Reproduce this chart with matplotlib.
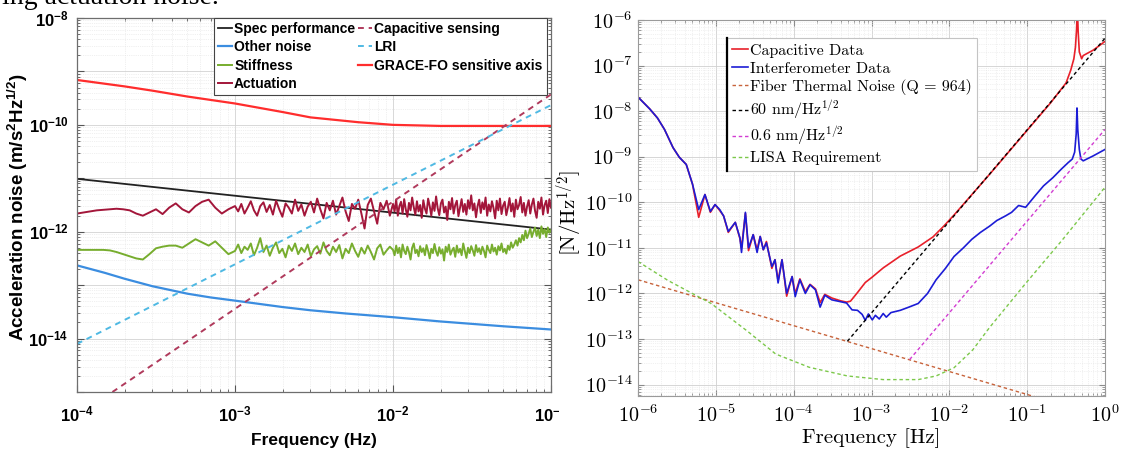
import numpy as np
import matplotlib.pyplot as plt
from matplotlib.patches import Rectangle
from matplotlib.ticker import LogLocator, NullFormatter, FuncFormatter

plt.rcParams['mathtext.fontset'] = 'cm'
# "custom" math font is used only by the left panel (bold sans)
plt.rcParams['mathtext.rm'] = 'Liberation Sans:bold'
plt.rcParams['mathtext.it'] = 'Liberation Sans:bold'
plt.rcParams['mathtext.bf'] = 'Liberation Sans:bold'

W, H = 1122, 453

# ---------------- left panel data (log10 values) ----------
grace_f = [1e-4, 2e-4, 3e-4, 5e-4, 1e-3, 2e-3, 3e-3, 6e-3, 1e-2, 2e-2, 5e-2, 1e-1]
grace_lv = [-9.16, -9.28, -9.36, -9.47, -9.60, -9.76, -9.86, -9.95, -10.0, -10.02, -10.02, -10.02]

spec_f = [1e-4, 1e-1]
spec_lv = [-11.01, -11.96]

other_f = [1e-4, 1.5e-4, 2e-4, 3e-4, 5e-4, 7e-4, 1e-3, 2e-3, 3e-3, 5e-3, 1e-2, 2e-2, 5e-2, 1e-1]
other_lv = [-12.63, -12.77, -12.88, -13.02, -13.16, -13.23, -13.29, -13.41, -13.47, -13.53,
            -13.60, -13.68, -13.77, -13.83]

capsens_f = [1e-4, 1e-1]
capsens_lv = [-15.45, -9.43]

lri_f = [1e-4, 1e-1]
lri_lv = [-14.10, -9.63]

# noisy spectra: 24 pts in 1e-4..1e-3, 50 in 1e-3..1e-2, 100 in 1e-2..1e-1
act_lv = [
    -11.66, -11.64, -11.62, -11.60, -11.59, -11.58, -11.57, -11.58, -11.60, -11.66,
    -11.70, -11.64, -11.58, -11.67, -11.55, -11.47, -11.58, -11.64, -11.52, -11.44,
    -11.40, -11.55, -11.66, -11.58,
    -11.52, -11.62, -11.48, -11.66, -11.55, -11.43, -11.60, -11.70, -11.52, -11.45,
    -11.63, -11.50, -11.68, -11.42, -11.58, -11.72, -11.47, -11.55, -11.66, -11.40,
    -11.61, -11.49, -11.70, -11.53, -11.44, -11.64, -11.38, -11.58, -11.75, -11.46,
    -11.60, -11.42, -11.68, -11.52, -11.36, -11.62, -11.80, -11.48, -11.57, -11.40,
    -11.66, -11.94, -11.50, -11.38, -11.62, -11.85, -11.46, -11.58, -11.42, -11.70,
    -11.48, -11.62, -11.40, -11.70, -11.52, -11.44, -11.66, -11.39, -11.58, -11.72,
    -11.46, -11.60, -11.36, -11.54, -11.68, -11.43, -11.62, -11.50, -11.74, -11.41,
    -11.57, -11.66, -11.38, -11.52, -11.70, -11.45, -11.61, -11.34, -11.56, -11.69,
    -11.47, -11.40, -11.64, -11.53, -11.78, -11.44, -11.58, -11.37, -11.66, -11.50,
    -11.42, -11.71, -11.55, -11.39, -11.63, -11.48, -11.68, -11.41, -11.57, -11.32,
    -11.60, -11.47, -11.73, -11.52, -11.40, -11.65, -11.45, -11.58, -11.36, -11.70,
    -11.49, -11.62, -11.43, -11.56, -11.75, -11.42, -11.60, -11.38, -11.67, -11.51,
    -11.44, -11.69, -11.55, -11.37, -11.62, -11.47, -11.72, -11.40, -11.58, -11.50,
    -11.35, -11.64, -11.46, -11.70, -11.53, -11.41, -11.66, -11.49, -11.38, -11.61,
    -11.74, -11.44, -11.57, -11.36, -11.68, -11.50, -11.42, -11.65, -11.39, -11.55]

stf_lv = [
    -12.34, -12.34, -12.34, -12.34, -12.34, -12.35, -12.38, -12.42, -12.46, -12.50,
    -12.52, -12.42, -12.31, -12.28, -12.26, -12.26, -12.30, -12.22, -12.14, -12.20,
    -12.26, -12.18, -12.30, -12.42,
    -12.36, -12.24, -12.40, -12.28, -12.34, -12.22, -12.44, -12.30, -12.12, -12.38,
    -12.26, -12.45, -12.30, -12.20, -12.40, -12.32, -12.48, -12.26, -12.36, -12.22,
    -12.42, -12.30, -12.38, -12.24, -12.46, -12.33, -12.27, -12.41, -12.20, -12.36,
    -12.44, -12.28, -12.38, -12.25, -12.50, -12.32, -12.40, -12.22, -12.36, -12.47,
    -12.30, -12.41, -12.26, -12.38, -12.52, -12.31, -12.24, -12.43, -12.35, -12.28,
    -12.34, -12.44, -12.26, -12.40, -12.30, -12.48, -12.24, -12.36, -12.42, -12.28,
    -12.38, -12.52, -12.30, -12.22, -12.40, -12.34, -12.46, -12.27, -12.38, -12.31,
    -12.44, -12.25, -12.36, -12.50, -12.32, -12.40, -12.23, -12.37, -12.45, -12.29,
    -12.41, -12.33, -12.54, -12.28, -12.38, -12.24, -12.43, -12.35, -12.30, -12.47,
    -12.26, -12.39, -12.32, -12.44, -12.22, -12.36, -12.49, -12.30, -12.40, -12.27,
    -12.35, -12.45, -12.25, -12.38, -12.31, -12.42, -12.28, -12.36, -12.48, -12.26,
    -12.34, -12.40, -12.24, -12.37, -12.30, -12.43, -12.27, -12.35, -12.22, -12.38,
    -12.32, -12.41, -12.26, -12.34, -12.20, -12.30, -12.24, -12.16, -12.26, -12.12,
    -12.20, -12.06, -12.16, -11.98, -12.12, -12.04, -11.94, -12.10, -12.00, -11.92,
    -12.08, -11.96, -12.12, -11.90, -12.04, -11.95, -12.10, -11.92, -12.02, -11.97]

noise_f = np.concatenate([np.logspace(-4, -3, 24, endpoint=False),
                          np.logspace(-3, -2, 50, endpoint=False),
                          np.logspace(-2, -1, 100)])

# ---------------- right panel data (log10 f, log10 value) ----------------------
cap_lf = [-6.00, -5.85, -5.75, -5.66, -5.55, -5.47, -5.38, -5.30, -5.22, -5.14,
          -5.07, -5.01, -4.95, -4.90, -4.84, -4.75, -4.69, -4.67, -4.62, -4.58,
          -4.52, -4.47, -4.43, -4.39, -4.35, -4.28, -4.24, -4.20, -4.15, -4.09,
          -4.02, -3.98, -3.92, -3.85, -3.79, -3.72, -3.66, -3.60, -3.51, -3.40,
          -3.32, -3.27, -3.18, -3.08, -2.99, -2.85, -2.63, -2.40, -2.21, -2.07,
          -1.94, -1.48, -1.02, -0.70, -0.50, -0.44, -0.40, -0.38, -0.365, -0.355,
          -0.345, -0.33, -0.30, -0.28, -0.15, 0.0]
cap_lv = [-7.69, -7.95, -8.15, -8.40, -8.80, -9.01, -9.17, -9.60, -10.33, -9.83,
          -10.22, -10.05, -10.18, -10.30, -10.66, -10.44, -10.80, -11.00, -10.24, -11.06,
          -10.71, -11.04, -10.75, -11.04, -10.86, -11.45, -11.26, -11.72, -11.26, -12.06,
          -11.63, -12.00, -11.68, -11.96, -11.80, -11.90, -12.20, -12.02, -12.10, -12.16,
          -12.19, -12.17, -11.98, -11.76, -11.64, -11.44, -11.18, -10.98, -10.76, -10.52,
          -10.28, -9.38, -8.46, -7.82, -7.38, -7.10, -6.85, -6.60, -6.20, -5.70,
          -6.25, -6.70, -6.85, -6.78, -6.66, -6.47]

ifo_lf = [-6.00, -5.85, -5.75, -5.66, -5.55, -5.47, -5.38, -5.30, -5.22, -5.14,
          -5.07, -5.01, -4.95, -4.90, -4.84, -4.75, -4.69, -4.67, -4.62, -4.58,
          -4.52, -4.47, -4.43, -4.39, -4.35, -4.28, -4.24, -4.20, -4.15, -4.09,
          -4.02, -3.98, -3.92, -3.85, -3.79, -3.72, -3.66, -3.60, -3.51, -3.40,
          -3.32, -3.25, -3.18, -3.12, -3.08, -3.04, -2.99, -2.95, -2.90, -2.85,
          -2.81, -2.75, -2.63, -2.52, -2.40, -2.28, -2.17, -2.05, -1.94, -1.82,
          -1.71, -1.60, -1.48, -1.39, -1.28, -1.20, -1.11, -1.02, -0.90, -0.79,
          -0.67, -0.56, -0.48, -0.42, -0.39, -0.37, -0.36, -0.35, -0.33, -0.31,
          -0.28, -0.15, 0.0]
ifo_lv = [-7.69, -7.95, -8.15, -8.40, -8.80, -9.01, -9.17, -9.60, -10.16, -9.83,
          -10.20, -10.05, -10.16, -10.30, -10.64, -10.44, -10.78, -11.10, -10.22, -11.00,
          -10.71, -11.10, -10.75, -11.04, -10.89, -11.41, -11.26, -11.77, -11.26, -12.00,
          -11.63, -12.07, -11.70, -12.00, -11.81, -11.92, -12.30, -12.04, -12.14, -12.18,
          -12.21, -12.36, -12.37, -12.46, -12.59, -12.45, -12.58, -12.48, -12.56, -12.44,
          -12.52, -12.42, -12.37, -12.30, -12.22, -12.00, -11.70, -11.45, -11.19, -11.00,
          -10.81, -10.66, -10.52, -10.40, -10.30, -10.22, -10.07, -10.11, -9.86, -9.64,
          -9.46, -9.27, -9.14, -9.05, -8.90, -8.50, -7.93, -8.40, -8.84, -9.05,
          -9.09, -8.98, -8.84]

fiber_lf = [-6.0, 0.0]
fiber_lv = [-11.70, -14.72]

nm60_lf = [-3.31, 0.0]
nm60_lv = [-13.05, -6.40]

nm06_lf = [-2.51, 0.0]
nm06_lv = [-13.45, -8.40]

lisa_lf = [-6.0, -5.61, -5.06, -4.60, -4.23, -3.80, -3.31, -2.85, -2.40, -2.17,
           -1.94, -1.70, -1.48, -1.02, -0.56, 0.0]
lisa_lv = [-11.30, -11.72, -12.22, -12.82, -13.33, -13.62, -13.81, -13.89, -13.89, -13.81,
           -13.63, -13.24, -12.74, -11.78, -10.85, -9.67]


def p10(a):
    return 10.0 ** np.asarray(a)


fig = plt.figure(figsize=(W / 100, H / 100), dpi=100)

# ================= left panel =================
ax1 = fig.add_axes([77 / W, 1 - 392 / H, 474 / W, 374 / H])
ax1.set_xscale('log')
ax1.set_yscale('log')

l_grace, = ax1.plot(grace_f, p10(grace_lv), color='#ff2d2d', lw=1.6)
l_spec, = ax1.plot(spec_f, p10(spec_lv), color='#222222', lw=1.3)
l_other, = ax1.plot(other_f, p10(other_lv), color='#3b8de0', lw=1.6)
l_stf, = ax1.plot(noise_f, p10(stf_lv), color='#77ad2e', lw=1.4)
l_act, = ax1.plot(noise_f, p10(act_lv), color='#a3163a', lw=1.4)
l_cap, = ax1.plot(capsens_f, p10(capsens_lv), color='#b03a5c', lw=1.4, dashes=(3, 2.5))
l_lri, = ax1.plot(lri_f, p10(lri_lv), color='#4fb9e3', lw=1.4, dashes=(3, 2.5))

ax1.set_xlim(1e-4, 1e-1)
ax1.set_ylim(1e-15, 1e-8)
ax1.set_xticks([1e-4, 1e-3, 1e-2, 1e-1])
ax1.set_yticks([10.0 ** k for k in range(-15, -7)])

ax1.xaxis.set_major_formatter(FuncFormatter(
    lambda v, p: r'$\mathbf{10^{%d}}$' % round(np.log10(v))))
ax1.yaxis.set_major_formatter(FuncFormatter(
    lambda v, p: r'$\mathbf{10^{%d}}$' % round(np.log10(v)) if round(np.log10(v)) % 2 == 0 else ''))
for a in (ax1.xaxis, ax1.yaxis):
    a.set_minor_locator(LogLocator(subs=np.arange(2, 10), numticks=20))
    a.set_minor_formatter(NullFormatter())
ax1.grid(True, which='major', color='#d2d2d2', lw=0.6)
ax1.grid(True, which='minor', color='#e2e2e2', lw=0.5, ls=':')
ax1.set_axisbelow(True)
ax1.tick_params(which='both', direction='in', top=True, right=True, colors='#555555',
                labelcolor='black', labelsize=12)
ax1.tick_params(which='major', length=5)
ax1.tick_params(which='minor', length=2.5)
ax1.tick_params(axis='x', pad=10)
ax1.tick_params(axis='y', pad=6)
for s in ax1.spines.values():
    s.set_color('#6e6e6e')
    s.set_linewidth(0.9)

ax1.set_xlabel('Frequency (Hz)', fontsize=12.5, fontweight='bold', family='Liberation Sans')
ax1.xaxis.set_label_coords(0.5, -0.11)
ax1.set_ylabel(r'Acceleration noise (m/s$^{\mathbf{2}}$Hz$^{\mathbf{1/2}}$)', fontsize=13.5,
               fontweight='bold', family='Liberation Sans', math_fontfamily='custom')
ax1.yaxis.set_label_coords(-0.1, 0.495)

leg1 = ax1.legend([l_spec, l_other, l_stf, l_act, l_cap, l_lri, l_grace],
                  ['Spec performance', 'Other noise', 'Stiffness', 'Actuation',
                   'Capacitive sensing', 'LRI', 'GRACE-FO sensitive axis'],
                  ncol=2, loc='upper left', bbox_to_anchor=(0.289, 1.0), borderaxespad=0,
                  prop={'family': 'Liberation Sans', 'weight': 'bold', 'size': 10},
                  handlelength=1.0, handletextpad=0.15, columnspacing=0.2,
                  labelspacing=0.3, borderpad=0.3, fancybox=False, framealpha=1,
                  edgecolor='#444444')
leg1.get_frame().set_linewidth(0.8)

# white strip: the right picture covers the end of the left one
fig.add_artist(Rectangle((559 / W, 0), 1, 1, transform=fig.transFigure,
                         facecolor='white', edgecolor='none', zorder=1))

# ================= right panel =================
ax2 = fig.add_axes([638 / W, 1 - 396 / H, 467 / W, 376 / H])
ax2.set_zorder(2)
ax2.set_xscale('log')
ax2.set_yscale('log')

r_cap, = ax2.plot(p10(cap_lf), p10(cap_lv), color='#e8202a', lw=1.2)
r_ifo, = ax2.plot(p10(ifo_lf), p10(ifo_lv), color='#1c1cd6', lw=1.2)
r_fib, = ax2.plot(p10(fiber_lf), p10(fiber_lv), color='#c8643c', lw=1.0, dashes=(2.5, 2))
r_60, = ax2.plot(p10(nm60_lf), p10(nm60_lv), color='black', lw=1.0, dashes=(2.5, 2))
r_06, = ax2.plot(p10(nm06_lf), p10(nm06_lv), color='#d23cd2', lw=1.0, dashes=(2.5, 2))
r_lisa, = ax2.plot(p10(lisa_lf), p10(lisa_lv), color='#7cc84a', lw=1.0, dashes=(2.5, 2))

ax2.set_xlim(1e-6, 1)
ax2.set_ylim(10 ** -14.25, 1e-6)
ax2.set_xticks([10.0 ** k for k in range(-6, 1)])
ax2.set_yticks([10.0 ** k for k in range(-14, -5)])
fmt2 = FuncFormatter(lambda v, p: r'$10^{%d}$' % round(np.log10(v)))
ax2.xaxis.set_major_formatter(fmt2)
ax2.yaxis.set_major_formatter(fmt2)
for a in (ax2.xaxis, ax2.yaxis):
    a.set_minor_locator(LogLocator(subs=np.arange(2, 10), numticks=20))
    a.set_minor_formatter(NullFormatter())
ax2.grid(True, which='major', color='#d0d0d0', lw=0.6)
ax2.grid(True, which='minor', color='#e4e4e4', lw=0.5, ls=':')
ax2.set_axisbelow(True)
ax2.tick_params(which='both', direction='in', top=True, right=True, colors='#8a8a8a',
                labelcolor='black', labelsize=14.5)
ax2.tick_params(which='major', length=4)
ax2.tick_params(which='minor', length=2)
ax2.tick_params(axis='x', pad=6)
ax2.tick_params(axis='y', pad=4)
for s in ax2.spines.values():
    s.set_color('#9a9a9a')
    s.set_linewidth(0.8)

ax2.set_xlabel('Frequency [Hz]', fontsize=15, family='cmr10')
ax2.xaxis.set_label_coords(0.5, -0.085)
ax2.set_ylabel(r'$[\mathrm{N/Hz}^{1/2}]$', fontsize=15)
ax2.yaxis.set_label_coords(-0.115, 0.487)

leg2 = ax2.legend([r_cap, r_ifo, r_fib, r_60, r_06, r_lisa],
                  ['Capacitive Data', 'Interferometer Data', 'Fiber Thermal Noise (Q = 964)',
                   r'60 nm/Hz$^{1/2}$', r'0.6 nm/Hz$^{1/2}$', 'LISA Requirement'],
                  loc='upper left', bbox_to_anchor=(0.19, 0.952), borderaxespad=0,
                  prop={'family': 'cmr10', 'size': 11.5}, handlelength=1.0,
                  handletextpad=0.1, labelspacing=0.22, borderpad=0.35,
                  fancybox=False, framealpha=1, edgecolor='#c4c4c4')
leg2.get_frame().set_linewidth(0.8)

# partial caption line from the page above the figures
fig.text(2 / W, 1 - 4 / H, 'ing actuation noise.', fontsize=20, family='Liberation Serif',
         va='baseline', ha='left')

fig.canvas.draw()
for lbl in ax1.get_xticklabels() + ax1.get_yticklabels():
    lbl.set_math_fontfamily('custom')
    lbl.set_fontweight('bold')
bb = leg2.get_window_extent().transformed(ax2.transAxes.inverted())
ax2.plot([bb.x0, bb.x0], [bb.y0, bb.y1], transform=ax2.transAxes, color='black',
         lw=1.6, clip_on=False, zorder=6)

fig.savefig('out.png', dpi=100)
